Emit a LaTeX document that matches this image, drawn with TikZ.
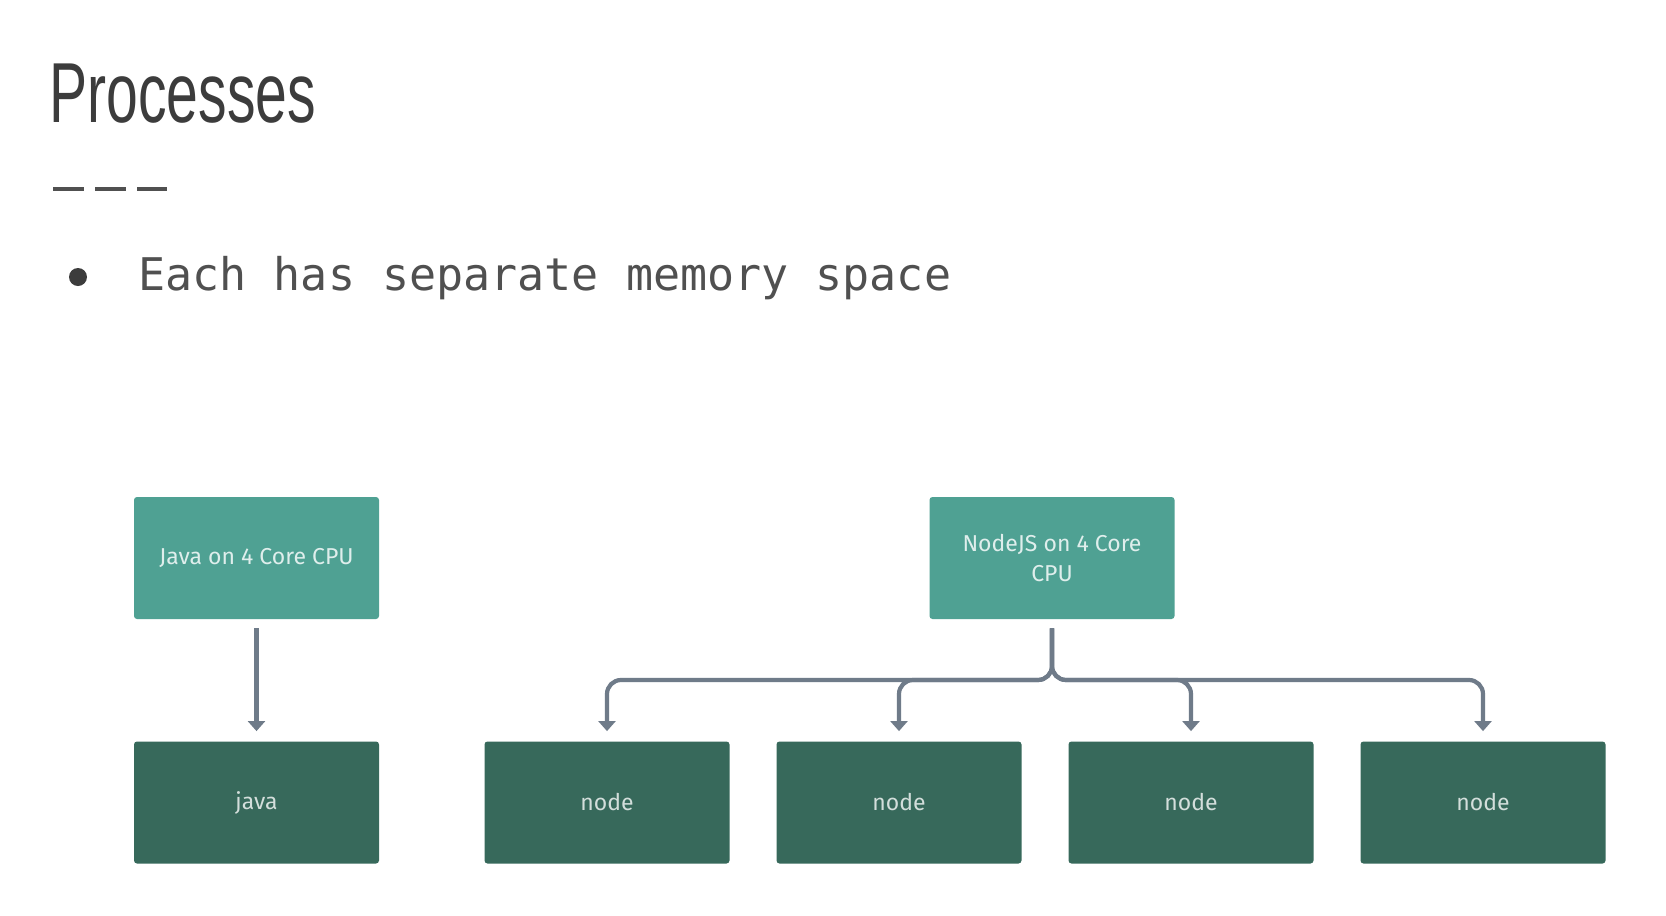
\documentclass[tikz,border=0pt]{standalone}
\usepackage{fontspec}
\setmainfont{Fira Sans}
\setmonofont{DejaVu Sans Mono}
\newfontfamily\headfont{Liberation Sans}
\usepackage{graphicx}
\usetikzlibrary{arrows.meta, positioning}
\definecolor{cputeal}{HTML}{4FA193}
\definecolor{procgreen}{HTML}{37695B}
\definecolor{wire}{HTML}{6F7B89}
\definecolor{ink}{HTML}{3C3C3C}

\begin{document}
\begin{tikzpicture}[
    x=0.5pt, y=-0.5pt, >={Triangle[width=8.5pt, length=5pt]},
    box/.style={minimum width=122.5pt, minimum height=61pt, inner sep=2pt,
                rounded corners=1.5pt, align=center,
                font=\fontsize{11.5}{15}\selectfont},
    cpu/.style={box, fill=cputeal, text=white!82!cputeal},
    proc/.style={box, fill=procgreen, text=white!78!procgreen},
    flow/.style={->, wire, line width=2.1pt, rounded corners=7pt,
                 shorten <=4.5pt, shorten >=5pt}
  ]
  \useasboundingbox[fill=white] (0,0) rectangle (1666,916);

  % Heading
  \node[anchor=base west, inner sep=0pt, text=ink,
        font=\headfont\fontsize{42.6}{44}\selectfont] (title) at (49,122)
    {\scalebox{0.67}[1]{Processes}};
  \draw[ink!90, line width=2pt, dash pattern=on 15.5pt off 5.5pt] (53,189) -- (167,189);
  \fill[ink] (78,277) circle (4.5pt);
  \node[anchor=base west, inner sep=0pt, text=ink!90,
        font=\ttfamily\fontsize{22.5}{27}\selectfont] (point) at (138,290)
    {Each has separate memory space};

  % Java
  \node[cpu] (javacpu) at (256.5,558) {Java on 4 Core CPU};
  \node[proc] (javaproc) at (256.5,802.5) {java};
  \draw[flow] (javacpu) -- (javaproc);

  % NodeJS
  \node[cpu] (nodecpu) at (1052,558) {NodeJS on 4 Core\\CPU};
  \coordinate (bus) at (1052,680);
  \foreach \x [count=\i] in {607,899,1191,1483}
    \node[proc] (n\i) at (\x,802.5) {node};

  \foreach \i in {1,2,3,4}
    \draw[flow] (nodecpu) -- (bus) -| (n\i);
\end{tikzpicture}
\end{document}
